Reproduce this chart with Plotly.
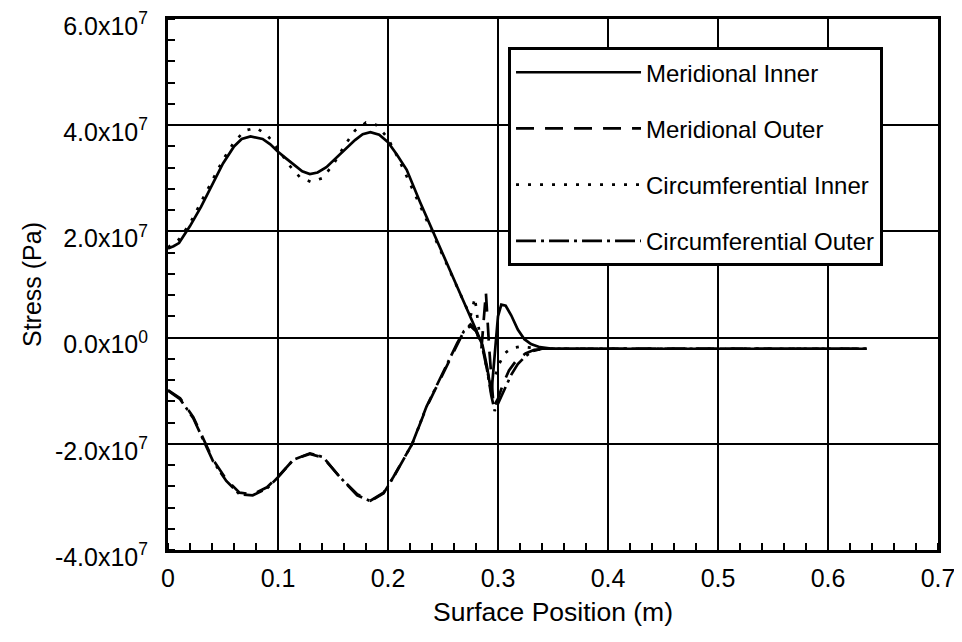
import plotly.graph_objects as go

# Meridional Inner (solid)
mi_x = [0, 0.005, 0.01, 0.017, 0.02, 0.03, 0.04, 0.05, 0.06, 0.067, 0.075, 0.086, 0.093, 0.1,
        0.107, 0.114, 0.122, 0.129, 0.136, 0.144, 0.153, 0.162, 0.17, 0.177, 0.184, 0.192, 0.2,
        0.208, 0.217, 0.229, 0.241, 0.25, 0.26, 0.27, 0.277, 0.281, 0.286, 0.29, 0.294, 0.297,
        0.3, 0.303, 0.307, 0.312, 0.318, 0.324, 0.33, 0.338, 0.35, 0.4, 0.5, 0.6, 0.635]
mi_y = [1.68e7, 1.72e7, 1.78e7, 2.0e7, 2.1e7, 2.46e7, 2.87e7, 3.28e7, 3.6e7, 3.74e7, 3.79e7, 3.74e7, 3.64e7, 3.5e7,
        3.38e7, 3.26e7, 3.13e7, 3.08e7, 3.11e7, 3.21e7, 3.38e7, 3.56e7, 3.72e7, 3.83e7, 3.87e7, 3.82e7, 3.68e7,
        3.45e7, 3.16e7, 2.56e7, 2.0e7, 1.58e7, 1.1e7, 0.63e7, 0.3e7, 0.1e7, -0.15e7, -0.55e7, -1.05e7, -0.3e7,
        0.4e7, 0.62e7, 0.6e7, 0.42e7, 0.15e7, -0.03e7, -0.12e7, -0.18e7, -0.21e7, -0.21e7, -0.21e7, -0.21e7, -0.21e7]

# Meridional Outer (dashed)
mo_x = [0, 0.011, 0.023, 0.034, 0.041, 0.053, 0.065, 0.077, 0.09, 0.1, 0.114, 0.129, 0.141, 0.156,
        0.172, 0.184, 0.196, 0.205, 0.222, 0.235, 0.25, 0.256, 0.263, 0.269, 0.275, 0.28, 0.285, 0.289,
        0.292, 0.296, 0.3, 0.305, 0.31, 0.317, 0.325, 0.333, 0.345, 0.4, 0.5, 0.6, 0.635]
mo_y = [-0.99e7, -1.14e7, -1.5e7, -1.98e7, -2.3e7, -2.67e7, -2.92e7, -2.95e7, -2.82e7, -2.62e7, -2.3e7, -2.19e7, -2.26e7, -2.62e7,
        -2.95e7, -3.07e7, -2.92e7, -2.62e7, -2.0e7, -1.31e7, -0.67e7, -0.43e7, -0.11e7, 0.12e7, 0.25e7, 0.15e7, -0.2e7, 0.85e7,
        -0.2e7, -1.3e7, -1.15e7, -0.85e7, -0.62e7, -0.42e7, -0.3e7, -0.23e7, -0.21e7, -0.21e7, -0.21e7, -0.21e7, -0.21e7]

# Circumferential Inner (dotted)
ci_x = [0, 0.01, 0.02, 0.03, 0.04, 0.05, 0.06, 0.07, 0.08, 0.09, 0.1, 0.11, 0.12, 0.13, 0.14, 0.15,
        0.16, 0.17, 0.18, 0.19, 0.2, 0.21, 0.22, 0.23, 0.24, 0.25, 0.26, 0.27, 0.275, 0.279, 0.283,
        0.288, 0.293, 0.297, 0.301, 0.306, 0.312, 0.32, 0.33, 0.34, 0.4, 0.5, 0.6, 0.635]
ci_y = [1.7e7, 1.85e7, 2.15e7, 2.55e7, 2.95e7, 3.35e7, 3.68e7, 3.9e7, 3.95e7, 3.82e7, 3.55e7, 3.25e7, 3.02e7, 2.93e7, 3.0e7, 3.25e7,
        3.6e7, 3.9e7, 4.05e7, 4.0e7, 3.75e7, 3.35e7, 2.9e7, 2.45e7, 2.0e7, 1.55e7, 1.1e7, 0.65e7, 0.4e7, 0.75e7, 0.1e7,
        -0.4e7, -0.9e7, -0.75e7, -0.5e7, -0.3e7, -0.2e7, -0.17e7, -0.19e7, -0.21e7, -0.21e7, -0.21e7, -0.21e7, -0.21e7]

# Circumferential Outer (dash-dot)
co_x = [0, 0.011, 0.023, 0.034, 0.041, 0.053, 0.065, 0.077, 0.09, 0.1, 0.114, 0.129, 0.141, 0.156,
        0.172, 0.184, 0.196, 0.205, 0.222, 0.235, 0.25, 0.256, 0.263, 0.269, 0.275, 0.28, 0.285, 0.29,
        0.294, 0.297, 0.301, 0.306, 0.312, 0.318, 0.325, 0.332, 0.34, 0.4, 0.5, 0.6, 0.635]
co_y = [-1.0e7, -1.16e7, -1.52e7, -2.0e7, -2.33e7, -2.7e7, -2.95e7, -2.97e7, -2.84e7, -2.63e7, -2.3e7, -2.18e7, -2.25e7, -2.62e7,
        -2.97e7, -3.08e7, -2.93e7, -2.63e7, -2.0e7, -1.3e7, -0.66e7, -0.42e7, -0.1e7, 0.12e7, 0.22e7, 0.12e7, -0.1e7, -0.6e7,
        -1.1e7, -1.38e7, -1.2e7, -0.95e7, -0.7e7, -0.5e7, -0.35e7, -0.25e7, -0.21e7, -0.21e7, -0.21e7, -0.21e7, -0.21e7]

x_ticks = [0, 0.1, 0.2, 0.3, 0.4, 0.5, 0.6, 0.7]
x_ticktext = ["0", "0.1", "0.2", "0.3", "0.4", "0.5", "0.6", "0.7"]
y_ticks = [-4e7, -2e7, 0, 2e7, 4e7, 6e7]
y_ticktext = ["-4.0x10<sup>7</sup>", "-2.0x10<sup>7</sup>", "0.0x10<sup>0</sup>",
              "2.0x10<sup>7</sup>", "4.0x10<sup>7</sup>", "6.0x10<sup>7</sup>"]

series = [
    ("Meridional Inner", mi_x, mi_y, "solid"),
    ("Meridional Outer", mo_x, mo_y, "18px,11px"),
    ("Circumferential Inner", ci_x, ci_y, "3px,9px"),
    ("Circumferential Outer", co_x, co_y, "20px,5px,3px,5px"),
]

FONT = "Liberation Sans, Arial, sans-serif"
fig = go.Figure()
for i, (name, xs, ys, dash) in enumerate(series):
    fig.add_trace(go.Scatter(x=xs, y=ys, mode="lines", name=name, legendgroup=f"g{i}",
                             line=dict(color="black", width=2.7, dash=dash)))

axis_common = dict(showline=True, linewidth=3, linecolor="black", mirror=True,
                   showgrid=True, gridcolor="black", gridwidth=2,
                   ticks="", zeroline=False, automargin=False, ticklabeloverflow="allow",
                   tickfont=dict(family=FONT, size=25, color="black"))
fig.update_xaxes(range=[0, 0.7], tickvals=x_ticks, ticktext=x_ticktext,
                 minor=dict(dtick=0.02, ticks="inside", ticklen=7, tickcolor="black", tickwidth=1.5, showgrid=False),
                 title=dict(text="Surface Position (m)", font=dict(family=FONT, size=26.5, color="black"), standoff=12),
                 ticklabelstandoff=4, **axis_common)
fig.update_yaxes(range=[-4e7, 6e7], tickvals=y_ticks, ticktext=y_ticktext,
                 minor=dict(dtick=4e6, ticks="inside", ticklen=7, tickcolor="black", tickwidth=1.5, showgrid=False),
                 title=dict(text="Stress (Pa)", font=dict(family=FONT, size=25, color="black"), standoff=7),
                 ticklabelstandoff=12, ticklabelshift=7, **axis_common)

fig.update_layout(
    width=954, height=634,
    margin=dict(l=160, r=24, t=11, b=92),
    plot_bgcolor="white", paper_bgcolor="white",
    showlegend=True,
    legend=dict(x=0.4416, y=0.947, xanchor="left", yanchor="top",
                bgcolor="white", bordercolor="black", borderwidth=3,
                font=dict(family=FONT, size=24, color="black"),
                traceorder="grouped", tracegroupgap=22, itemwidth=125),
)
fig.write_html("out.html")
